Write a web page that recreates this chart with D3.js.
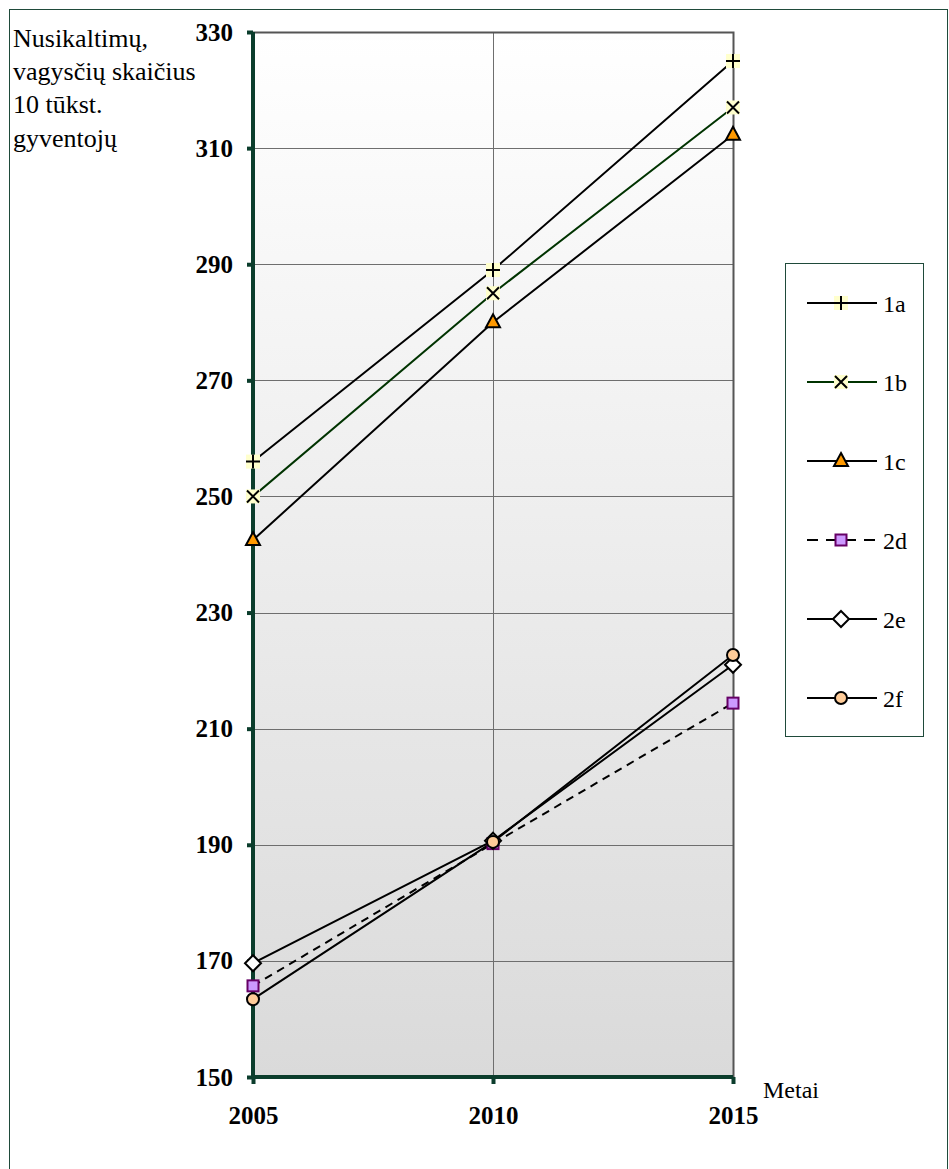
<!DOCTYPE html>
<html>
<head>
<meta charset="utf-8">
<script src="https://cdn.jsdelivr.net/npm/d3@7"></script>
<style>
  html, body { margin: 0; padding: 0; background: #fff; }
  svg { display: block; }
  text { font-family: "Liberation Serif", "Times New Roman", serif; }
</style>
</head>
<body>
<svg id="chart" width="949" height="1169" font-family="Liberation Serif, Times New Roman, serif"></svg>
<script>
// Crime / theft counts per 10 thousand residents
const years = [2005, 2010, 2015];
const yTicks = [150, 170, 190, 210, 230, 250, 270, 290, 310, 330];
const s1a = [256, 289, 325];
const s1b = [250, 285, 317];
const s1c = [242.5, 280, 312.3];
const s2d = [165.7, 190.2, 214.4];
const s2e = [169.6, 190.7, 221];
const s2f = [163.4, 190.5, 222.7];
const seriesNames = ["1a", "1b", "1c", "2d", "2e", "2f"];
const yTitleLines = ["Nusikaltimų,", "vagysčių skaičius", "10 tūkst.", "gyventojų"];
const xTitle = "Metai";

const seriesValues = [s1a, s1b, s1c, s2d, s2e, s2f];
const styles = {
  "1a": { line: "#000", dash: null, marker: "plus" },
  "1b": { line: "#003300", dash: null, marker: "cross" },
  "1c": { line: "#000", dash: null, marker: "triangle" },
  "2d": { line: "#000", dash: "8,6", marker: "square" },
  "2e": { line: "#000", dash: null, marker: "diamond" },
  "2f": { line: "#000", dash: null, marker: "circle" }
};

const serif = "'Liberation Serif', 'Times New Roman', serif";
const svg = d3.select("#chart");
const plotLeft = 253, plotRight = 733, plotTop = 32, plotBottom = 1077;

const x = d3.scalePoint().domain(years).range([plotLeft, plotRight]);
const y = d3.scaleLinear().domain([150, 330]).range([plotBottom, plotTop]);

// outer frame (runs past the bottom edge)
svg.append("rect").attr("x", 9.5).attr("y", 9.5).attr("width", 938).attr("height", 1170)
  .attr("fill", "#fff").attr("stroke", "#1f4a3a").attr("stroke-width", 1);

// plot background gradient
const defs = svg.append("defs");
const grad = defs.append("linearGradient").attr("id", "bg").attr("x1", 0).attr("y1", 0).attr("x2", 0).attr("y2", 1);
grad.append("stop").attr("offset", "0%").attr("stop-color", "#ffffff");
grad.append("stop").attr("offset", "100%").attr("stop-color", "#dadada");
svg.append("rect").attr("x", plotLeft).attr("y", plotTop).attr("width", plotRight - plotLeft).attr("height", plotBottom - plotTop)
  .attr("fill", "url(#bg)");

// gridlines
svg.append("g").selectAll("line").data(yTicks.slice(1)).join("line")
  .attr("x1", plotLeft).attr("x2", plotRight)
  .attr("y1", d => Math.round(y(d)) + 0.5).attr("y2", d => Math.round(y(d)) + 0.5)
  .attr("stroke", "#6e6e6e").attr("stroke-width", 1);
svg.append("line").attr("x1", x(2010) + 0.5).attr("x2", x(2010) + 0.5).attr("y1", plotTop).attr("y2", plotBottom)
  .attr("stroke", "#6e6e6e").attr("stroke-width", 1);

// plot border (top / right)
svg.append("path").attr("d", `M${plotLeft},${plotTop + 0.5}H${plotRight + 0.5}V${plotBottom}`)
  .attr("fill", "none").attr("stroke", "#555").attr("stroke-width", 2);

// axes
const axisColor = "#0b3d2c";
const yAxis = svg.append("g").attr("transform", `translate(${plotLeft},0)`)
  .call(d3.axisLeft(y).tickValues(yTicks).tickSize(6).tickPadding(14));
const xAxis = svg.append("g").attr("transform", `translate(0,${plotBottom})`)
  .call(d3.axisBottom(x).tickValues(years).tickSize(7).tickPadding(22));
[yAxis, xAxis].forEach(g => {
  g.attr("font-family", null).attr("font-size", null);
  g.select(".domain").attr("stroke", axisColor).attr("stroke-width", 4);
  g.selectAll(".tick line").attr("stroke", axisColor).attr("stroke-width", 4);
  g.selectAll(".tick text").attr("fill", "#000")
    .style("font-family", serif).style("font-size", "25px").style("font-weight", "bold");
});
yAxis.select(".domain").attr("d", `M0,${plotBottom}V${plotTop}`);
xAxis.select(".domain").attr("d", `M${plotLeft},0H${plotRight}`);

// axis titles
const yt = svg.append("text").attr("x", 13).style("font-family", serif).style("font-size", "26px").attr("fill", "#000");
yTitleLines.forEach((l, i) => yt.append("tspan").attr("x", 13).attr("y", 47 + i * 33.2).text(l));
svg.append("text").attr("x", 763).attr("y", 1098).style("font-family", serif).style("font-size", "24px")
  .attr("fill", "#000").text(xTitle);

// marker drawing
function drawMarker(g, type) {
  switch (type) {
    case "plus":
      g.append("rect").attr("x", -7).attr("y", -7).attr("width", 14).attr("height", 14).attr("fill", "#ffffcc");
      g.append("path").attr("d", "M-7,0H7M0,-7V7").attr("stroke", "#000").attr("stroke-width", 2);
      break;
    case "cross":
      g.append("rect").attr("x", -7).attr("y", -7).attr("width", 14).attr("height", 14).attr("fill", "#ffffcc");
      g.append("path").attr("d", "M-6,-6L6,6M-6,6L6,-6").attr("stroke", "#000").attr("stroke-width", 2);
      break;
    case "triangle":
      g.append("path").attr("d", "M0,-8L7,5H-7Z").attr("fill", "#ff9900").attr("stroke", "#000").attr("stroke-width", 2);
      break;
    case "square":
      g.append("rect").attr("x", -5.5).attr("y", -5.5).attr("width", 11).attr("height", 11)
        .attr("fill", "#cc99ff").attr("stroke", "#660066").attr("stroke-width", 2);
      break;
    case "diamond":
      g.append("path").attr("d", "M0,-8L8,0L0,8L-8,0Z").attr("fill", "#fff").attr("stroke", "#000").attr("stroke-width", 2);
      break;
    case "circle":
      g.append("circle").attr("r", 6).attr("fill", "#ffcc99").attr("stroke", "#000").attr("stroke-width", 2);
      break;
  }
}

// series lines
const line = d3.line().x((d, i) => x(years[i])).y(d => y(d));
seriesNames.forEach((name, k) => {
  const st = styles[name];
  svg.append("path").datum(seriesValues[k]).attr("d", line)
    .attr("fill", "none").attr("stroke", st.line).attr("stroke-width", 2)
    .attr("stroke-dasharray", st.dash);
});
// series markers
seriesNames.forEach((name, k) => {
  const st = styles[name];
  seriesValues[k].forEach((v, i) => {
    drawMarker(svg.append("g").attr("transform", `translate(${x(years[i])},${y(v)})`), st.marker);
  });
});

// legend
const lg = svg.append("g");
lg.append("rect").attr("x", 785.5).attr("y", 263.5).attr("width", 138).attr("height", 473)
  .attr("fill", "#fff").attr("stroke", "#1f4a3a").attr("stroke-width", 1);
seriesNames.forEach((name, k) => {
  const st = styles[name];
  const cy = 303 + k * 79;
  lg.append("line").attr("x1", 807).attr("x2", 877).attr("y1", cy).attr("y2", cy)
    .attr("stroke", st.line).attr("stroke-width", 2)
    .attr("stroke-dasharray", st.dash ? "11,8" : null);
  drawMarker(lg.append("g").attr("transform", `translate(841,${cy})`), st.marker);
  lg.append("text").attr("x", 883).attr("y", cy + 9).style("font-family", serif).style("font-size", "24px")
    .attr("fill", "#000").text(name);
});
</script>
</body>
</html>
